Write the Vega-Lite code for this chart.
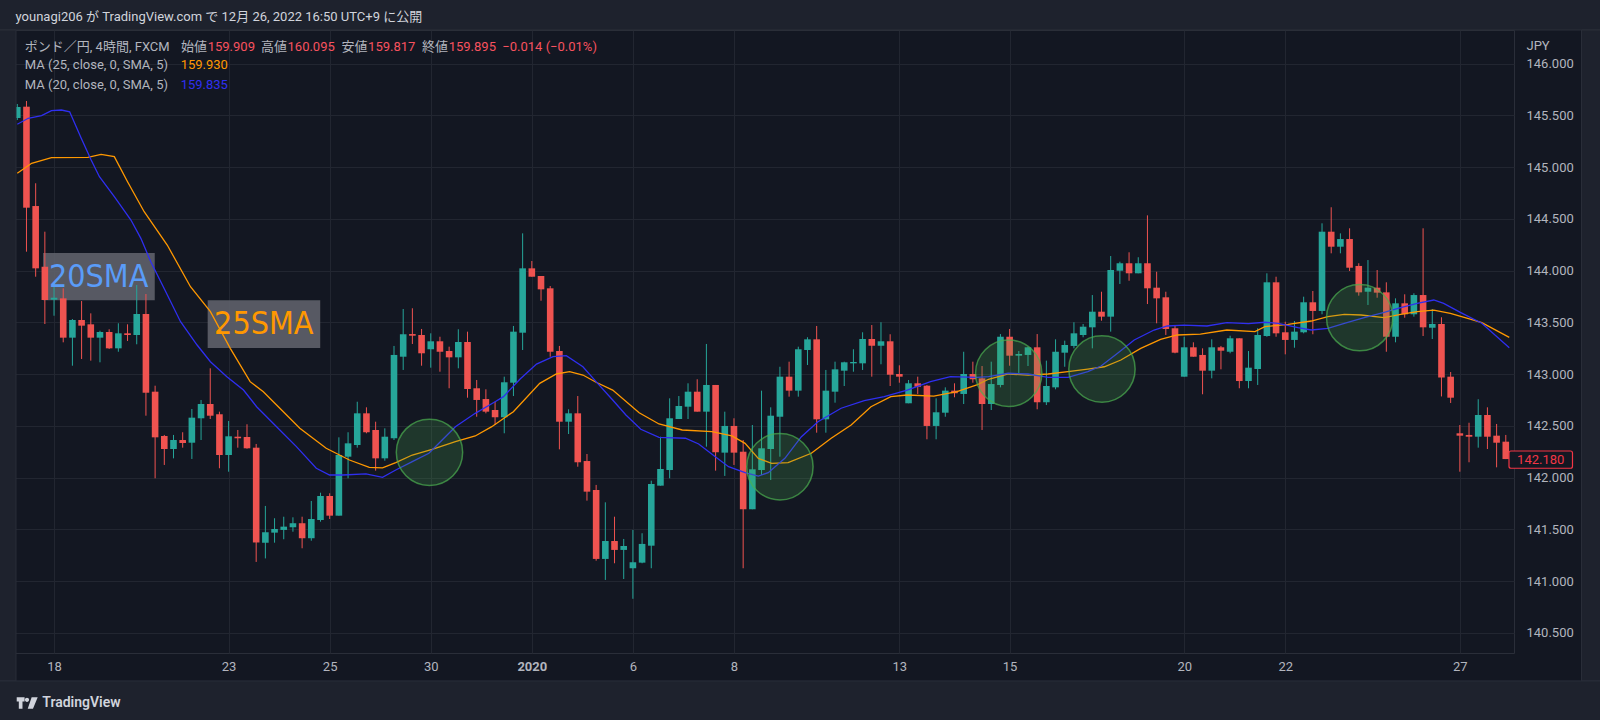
{
  "$schema": "https://vega.github.io/schema/vega-lite/v6.json",
  "description": "GBP/JPY 4h candles with 20 and 25 period SMA, TradingView snapshot",
  "width": 1503,
  "height": 623,
  "autosize": {"type": "none"},
  "padding": {"left": 11, "top": 30, "right": 86, "bottom": 67},
  "background": "#131722",
  "config": {
    "font": "Roboto, 'Noto Sans CJK JP', sans-serif",
    "view": {"stroke": "#2a2e39"}
  },
  "data": {
    "values": [
      {"i":0,"o":145.475,"h":145.611,"l":145.456,"c":145.582},
      {"i":1,"o":145.585,"h":145.640,"l":144.184,"c":144.609},
      {"i":2,"o":144.625,"h":144.845,"l":143.942,"c":144.023},
      {"i":3,"o":144.039,"h":144.377,"l":143.485,"c":143.717},
      {"i":4,"o":143.720,"h":143.878,"l":143.565,"c":143.739},
      {"i":5,"o":143.733,"h":143.830,"l":143.308,"c":143.353},
      {"i":6,"o":143.353,"h":143.533,"l":143.082,"c":143.524},
      {"i":7,"o":143.524,"h":143.707,"l":143.147,"c":143.469},
      {"i":8,"o":143.482,"h":143.588,"l":143.131,"c":143.353},
      {"i":9,"o":143.353,"h":143.420,"l":143.115,"c":143.408},
      {"i":10,"o":143.408,"h":143.434,"l":143.244,"c":143.250},
      {"i":11,"o":143.250,"h":143.492,"l":143.217,"c":143.395},
      {"i":12,"o":143.395,"h":143.482,"l":143.321,"c":143.379},
      {"i":13,"o":143.379,"h":143.862,"l":143.289,"c":143.582},
      {"i":14,"o":143.582,"h":143.775,"l":142.599,"c":142.821},
      {"i":15,"o":142.831,"h":142.889,"l":141.994,"c":142.390},
      {"i":16,"o":142.403,"h":142.413,"l":142.123,"c":142.277},
      {"i":17,"o":142.277,"h":142.413,"l":142.187,"c":142.364},
      {"i":18,"o":142.364,"h":142.439,"l":142.290,"c":142.335},
      {"i":19,"o":142.338,"h":142.664,"l":142.181,"c":142.580},
      {"i":20,"o":142.574,"h":142.751,"l":142.364,"c":142.712},
      {"i":21,"o":142.712,"h":143.057,"l":142.567,"c":142.599},
      {"i":22,"o":142.613,"h":142.638,"l":142.091,"c":142.219},
      {"i":23,"o":142.219,"h":142.548,"l":142.058,"c":142.400},
      {"i":24,"o":142.396,"h":142.461,"l":142.290,"c":142.381},
      {"i":25,"o":142.393,"h":142.516,"l":142.280,"c":142.284},
      {"i":26,"o":142.290,"h":142.326,"l":141.186,"c":141.374},
      {"i":27,"o":141.372,"h":141.727,"l":141.220,"c":141.473},
      {"i":28,"o":141.469,"h":141.608,"l":141.372,"c":141.504},
      {"i":29,"o":141.495,"h":141.623,"l":141.405,"c":141.527},
      {"i":30,"o":141.521,"h":141.617,"l":141.478,"c":141.560},
      {"i":31,"o":141.560,"h":141.623,"l":141.318,"c":141.415},
      {"i":32,"o":141.415,"h":141.775,"l":141.391,"c":141.601},
      {"i":33,"o":141.591,"h":141.855,"l":141.575,"c":141.823},
      {"i":34,"o":141.823,"h":141.849,"l":141.601,"c":141.633},
      {"i":35,"o":141.633,"h":142.390,"l":141.633,"c":142.219},
      {"i":36,"o":142.203,"h":142.439,"l":141.994,"c":142.332},
      {"i":37,"o":142.316,"h":142.734,"l":142.290,"c":142.622},
      {"i":38,"o":142.622,"h":142.680,"l":142.429,"c":142.439},
      {"i":39,"o":142.461,"h":142.541,"l":142.068,"c":142.187},
      {"i":40,"o":142.187,"h":142.477,"l":142.164,"c":142.396},
      {"i":41,"o":142.381,"h":143.273,"l":142.364,"c":143.186},
      {"i":42,"o":143.169,"h":143.630,"l":143.041,"c":143.386},
      {"i":43,"o":143.388,"h":143.637,"l":143.292,"c":143.372},
      {"i":44,"o":143.379,"h":143.437,"l":143.082,"c":143.202},
      {"i":45,"o":143.241,"h":143.395,"l":143.063,"c":143.318},
      {"i":46,"o":143.318,"h":143.362,"l":143.024,"c":143.217},
      {"i":47,"o":143.224,"h":143.266,"l":142.864,"c":143.163},
      {"i":48,"o":143.163,"h":143.434,"l":143.057,"c":143.311},
      {"i":49,"o":143.311,"h":143.411,"l":142.773,"c":142.857},
      {"i":50,"o":142.864,"h":142.944,"l":142.589,"c":142.751},
      {"i":51,"o":142.760,"h":142.854,"l":142.622,"c":142.638},
      {"i":52,"o":142.654,"h":142.734,"l":142.509,"c":142.584},
      {"i":53,"o":142.584,"h":142.976,"l":142.429,"c":142.922},
      {"i":54,"o":142.918,"h":143.466,"l":142.789,"c":143.411},
      {"i":55,"o":143.401,"h":144.361,"l":143.234,"c":144.023},
      {"i":56,"o":144.023,"h":144.094,"l":143.942,"c":143.942},
      {"i":57,"o":143.949,"h":143.949,"l":143.710,"c":143.820},
      {"i":58,"o":143.830,"h":143.852,"l":143.169,"c":143.217},
      {"i":59,"o":143.224,"h":143.273,"l":142.274,"c":142.541},
      {"i":60,"o":142.541,"h":142.661,"l":142.422,"c":142.622},
      {"i":61,"o":142.622,"h":142.789,"l":142.106,"c":142.149},
      {"i":62,"o":142.161,"h":142.229,"l":141.778,"c":141.865},
      {"i":63,"o":141.881,"h":141.930,"l":141.198,"c":141.215},
      {"i":64,"o":141.215,"h":141.762,"l":141.012,"c":141.388},
      {"i":65,"o":141.388,"h":141.623,"l":141.173,"c":141.302},
      {"i":66,"o":141.302,"h":141.408,"l":141.021,"c":141.340},
      {"i":67,"o":141.125,"h":141.495,"l":140.830,"c":141.183},
      {"i":68,"o":141.179,"h":141.463,"l":141.173,"c":141.360},
      {"i":69,"o":141.343,"h":141.971,"l":141.125,"c":141.939},
      {"i":70,"o":141.923,"h":142.396,"l":141.923,"c":142.084},
      {"i":71,"o":142.074,"h":142.767,"l":141.994,"c":142.574},
      {"i":72,"o":142.567,"h":142.789,"l":142.567,"c":142.693},
      {"i":73,"o":142.686,"h":142.912,"l":142.567,"c":142.831},
      {"i":74,"o":142.831,"h":142.951,"l":142.638,"c":142.638},
      {"i":75,"o":142.638,"h":143.292,"l":142.300,"c":142.896},
      {"i":76,"o":142.896,"h":142.896,"l":142.068,"c":142.246},
      {"i":77,"o":142.242,"h":142.638,"l":142.017,"c":142.500},
      {"i":78,"o":142.500,"h":142.574,"l":142.123,"c":142.242},
      {"i":79,"o":142.251,"h":142.364,"l":141.125,"c":141.695},
      {"i":80,"o":141.695,"h":142.509,"l":141.695,"c":142.081},
      {"i":81,"o":142.074,"h":142.841,"l":142.026,"c":142.284},
      {"i":82,"o":142.277,"h":142.680,"l":141.978,"c":142.599},
      {"i":83,"o":142.589,"h":143.072,"l":142.203,"c":142.976},
      {"i":84,"o":142.976,"h":143.121,"l":142.783,"c":142.841},
      {"i":85,"o":142.841,"h":143.266,"l":142.783,"c":143.241},
      {"i":86,"o":143.234,"h":143.357,"l":143.089,"c":143.337},
      {"i":87,"o":143.337,"h":143.466,"l":142.435,"c":142.564},
      {"i":88,"o":142.564,"h":143.041,"l":142.435,"c":142.841},
      {"i":89,"o":142.831,"h":143.121,"l":142.725,"c":143.047},
      {"i":90,"o":143.034,"h":143.121,"l":142.886,"c":143.115},
      {"i":91,"o":143.105,"h":143.241,"l":143.024,"c":143.118},
      {"i":92,"o":143.105,"h":143.405,"l":143.041,"c":143.340},
      {"i":93,"o":143.340,"h":143.475,"l":142.976,"c":143.275},
      {"i":94,"o":143.275,"h":143.502,"l":143.096,"c":143.318},
      {"i":95,"o":143.318,"h":143.386,"l":142.886,"c":142.995},
      {"i":96,"o":143.002,"h":143.086,"l":142.918,"c":142.976},
      {"i":97,"o":142.719,"h":142.944,"l":142.719,"c":142.912},
      {"i":98,"o":142.912,"h":142.976,"l":142.809,"c":142.879},
      {"i":99,"o":142.889,"h":142.896,"l":142.371,"c":142.500},
      {"i":100,"o":142.500,"h":142.767,"l":142.371,"c":142.632},
      {"i":101,"o":142.628,"h":142.873,"l":142.589,"c":142.841},
      {"i":102,"o":142.841,"h":142.912,"l":142.777,"c":142.816},
      {"i":103,"o":142.809,"h":143.217,"l":142.712,"c":143.002},
      {"i":104,"o":143.002,"h":143.121,"l":142.918,"c":142.951},
      {"i":105,"o":142.960,"h":143.079,"l":142.461,"c":142.712},
      {"i":106,"o":142.712,"h":143.121,"l":142.654,"c":142.905},
      {"i":107,"o":142.896,"h":143.388,"l":142.873,"c":143.362},
      {"i":108,"o":143.362,"h":143.437,"l":143.082,"c":143.179},
      {"i":109,"o":143.179,"h":143.224,"l":143.002,"c":143.195},
      {"i":110,"o":143.186,"h":143.266,"l":143.079,"c":143.260},
      {"i":111,"o":143.260,"h":143.388,"l":142.661,"c":142.729},
      {"i":112,"o":142.729,"h":143.131,"l":142.702,"c":142.886},
      {"i":113,"o":142.873,"h":143.337,"l":142.854,"c":143.217},
      {"i":114,"o":143.208,"h":143.324,"l":143.072,"c":143.282},
      {"i":115,"o":143.273,"h":143.502,"l":143.250,"c":143.395},
      {"i":116,"o":143.379,"h":143.485,"l":143.357,"c":143.459},
      {"i":117,"o":143.453,"h":143.765,"l":143.250,"c":143.604},
      {"i":118,"o":143.604,"h":143.797,"l":143.517,"c":143.556},
      {"i":119,"o":143.556,"h":144.142,"l":143.411,"c":144.007},
      {"i":120,"o":144.000,"h":144.087,"l":143.872,"c":144.072},
      {"i":121,"o":144.072,"h":144.178,"l":143.903,"c":143.975},
      {"i":122,"o":143.975,"h":144.130,"l":143.975,"c":144.072},
      {"i":123,"o":144.072,"h":144.535,"l":143.678,"c":143.830},
      {"i":124,"o":143.836,"h":143.990,"l":143.492,"c":143.733},
      {"i":125,"o":143.743,"h":143.797,"l":143.379,"c":143.437},
      {"i":126,"o":143.444,"h":143.466,"l":143.202,"c":143.208},
      {"i":127,"o":142.976,"h":143.362,"l":142.976,"c":143.260},
      {"i":128,"o":143.260,"h":143.308,"l":143.169,"c":143.169},
      {"i":129,"o":143.186,"h":143.250,"l":142.806,"c":143.034},
      {"i":130,"o":143.034,"h":143.337,"l":142.960,"c":143.260},
      {"i":131,"o":143.260,"h":143.273,"l":143.047,"c":143.227},
      {"i":132,"o":143.217,"h":143.372,"l":143.202,"c":143.347},
      {"i":133,"o":143.347,"h":143.347,"l":142.864,"c":142.934},
      {"i":134,"o":142.934,"h":143.224,"l":142.864,"c":143.063},
      {"i":135,"o":143.050,"h":143.444,"l":142.896,"c":143.379},
      {"i":136,"o":143.369,"h":143.975,"l":143.362,"c":143.888},
      {"i":137,"o":143.888,"h":143.942,"l":143.362,"c":143.395},
      {"i":138,"o":143.405,"h":143.507,"l":143.192,"c":143.331},
      {"i":139,"o":143.331,"h":143.514,"l":143.256,"c":143.411},
      {"i":140,"o":143.405,"h":143.749,"l":143.395,"c":143.695},
      {"i":141,"o":143.695,"h":143.804,"l":143.386,"c":143.611},
      {"i":142,"o":143.611,"h":144.458,"l":143.579,"c":144.377},
      {"i":143,"o":144.377,"h":144.613,"l":144.168,"c":144.232},
      {"i":144,"o":144.232,"h":144.361,"l":144.168,"c":144.306},
      {"i":145,"o":144.306,"h":144.410,"l":143.997,"c":144.029},
      {"i":146,"o":144.046,"h":144.072,"l":143.759,"c":143.791},
      {"i":147,"o":143.797,"h":144.103,"l":143.669,"c":143.836},
      {"i":148,"o":143.836,"h":144.007,"l":143.739,"c":143.788},
      {"i":149,"o":143.791,"h":143.888,"l":143.217,"c":143.362},
      {"i":150,"o":143.362,"h":143.733,"l":143.308,"c":143.685},
      {"i":151,"o":143.685,"h":143.772,"l":143.546,"c":143.579},
      {"i":152,"o":143.579,"h":143.782,"l":143.556,"c":143.765},
      {"i":153,"o":143.765,"h":144.410,"l":143.369,"c":143.453},
      {"i":154,"o":143.449,"h":143.630,"l":143.340,"c":143.485},
      {"i":155,"o":143.485,"h":143.550,"l":142.785,"c":142.968},
      {"i":156,"o":142.976,"h":143.021,"l":142.722,"c":142.773},
      {"i":157,"o":142.429,"h":142.509,"l":142.058,"c":142.406},
      {"i":158,"o":142.413,"h":142.531,"l":142.149,"c":142.396},
      {"i":159,"o":142.396,"h":142.758,"l":142.290,"c":142.606},
      {"i":160,"o":142.606,"h":142.680,"l":142.277,"c":142.396},
      {"i":161,"o":142.406,"h":142.519,"l":142.100,"c":142.338},
      {"i":162,"o":142.348,"h":142.413,"l":142.180,"c":142.180}
    ]
  },
  "datasets": {
    "ma20": [
      {"k":0,"v":145.415},{"k":1.19,"v":145.473},{"k":2.64,"v":145.498},{"k":3.72,"v":145.546},
      {"k":4.80,"v":145.553},{"k":5.70,"v":145.536},{"k":6.96,"v":145.279},{"k":8.04,"v":145.070},
      {"k":8.94,"v":144.908},{"k":10.56,"v":144.715},{"k":12.37,"v":144.490},{"k":13.45,"v":144.313},
      {"k":14.53,"v":144.087},{"k":15.97,"v":143.830},{"k":17.77,"v":143.507},{"k":19.57,"v":143.282},
      {"k":21.02,"v":143.121},{"k":22.81,"v":142.976},{"k":24.62,"v":142.847},{"k":26.05,"v":142.686},
      {"k":28.22,"v":142.493},{"k":30.38,"v":142.300},{"k":32.54,"v":142.091},{"k":33.99,"v":142.026},
      {"k":35.43,"v":142.026},{"k":37.95,"v":142.036},{"k":39.75,"v":142.004},{"k":41.19,"v":142.074},
      {"k":42.99,"v":142.155},{"k":44.80,"v":142.236},{"k":46.24,"v":142.364},{"k":47.68,"v":142.493},
      {"k":49.84,"v":142.622},{"k":52.0,"v":142.734},{"k":52.91,"v":142.783},{"k":54.70,"v":142.951},
      {"k":56.51,"v":143.098},{"k":58.31,"v":143.169},{"k":59.75,"v":143.179},{"k":61.56,"v":143.072},
      {"k":62.99,"v":142.928},{"k":64.80,"v":142.751},{"k":66.24,"v":142.606},{"k":67.86,"v":142.468},
      {"k":69.84,"v":142.390},{"k":72.72,"v":142.381},{"k":74.16,"v":142.326},{"k":75.97,"v":142.203},
      {"k":77.41,"v":142.106},{"k":79.21,"v":142.048},{"k":80.65,"v":142.016},{"k":81.73,"v":142.048},
      {"k":83.54,"v":142.187},{"k":85.34,"v":142.396},{"k":87.14,"v":142.541},{"k":89.66,"v":142.671},
      {"k":92.18,"v":142.744},{"k":94.35,"v":142.783},{"k":96.86,"v":142.847},{"k":99.39,"v":142.928},
      {"k":101.56,"v":142.976},{"k":104.43,"v":142.970},{"k":105.70,"v":142.976},{"k":107.86,"v":143.009},
      {"k":110.02,"v":143.002},{"k":112.18,"v":142.970},{"k":114.35,"v":142.970},{"k":116.51,"v":143.024},
      {"k":117.95,"v":143.079},{"k":119.75,"v":143.202},{"k":121.56,"v":143.331},{"k":123.72,"v":143.427},
      {"k":125.16,"v":143.466},{"k":126.96,"v":143.475},{"k":129.48,"v":143.466},{"k":131.64,"v":143.498},
      {"k":133.99,"v":143.488},{"k":135.78,"v":143.502},{"k":137.23,"v":143.492},{"k":139.39,"v":143.449},
      {"k":140.83,"v":143.427},{"k":142.64,"v":143.443},{"k":144.43,"v":143.492},{"k":146.59,"v":143.546},
      {"k":148.76,"v":143.598},{"k":150.56,"v":143.643},{"k":152.36,"v":143.685},{"k":154.16,"v":143.717},
      {"k":155.24,"v":143.685},{"k":157.05,"v":143.598},{"k":159.39,"v":143.492},{"k":162.38,"v":143.256}
    ],
    "ma25": [
      {"k":0,"v":144.941},{"k":1.56,"v":145.038},{"k":3.72,"v":145.092},{"k":7.68,"v":145.096},
      {"k":9.12,"v":145.125},{"k":10.56,"v":145.102},{"k":12.0,"v":144.860},{"k":13.81,"v":144.570},
      {"k":16.32,"v":144.248},{"k":18.85,"v":143.845},{"k":21.02,"v":143.604},{"k":23.18,"v":143.250},
      {"k":25.34,"v":142.928},{"k":26.78,"v":142.831},{"k":28.22,"v":142.702},{"k":30.75,"v":142.477},
      {"k":33.62,"v":142.284},{"k":36.15,"v":142.171},{"k":38.31,"v":142.100},{"k":39.75,"v":142.094},
      {"k":41.19,"v":142.145},{"k":42.99,"v":142.219},{"k":45.15,"v":142.274},{"k":47.68,"v":142.348},
      {"k":49.84,"v":142.403},{"k":51.64,"v":142.493},{"k":53.99,"v":142.638},{"k":56.86,"v":142.912},
      {"k":58.67,"v":143.002},{"k":60.11,"v":143.024},{"k":61.56,"v":142.992},{"k":62.99,"v":142.922},
      {"k":64.80,"v":142.847},{"k":67.68,"v":142.628},{"k":69.84,"v":142.519},{"k":72.37,"v":142.461},
      {"k":75.61,"v":142.445},{"k":77.77,"v":142.403},{"k":79.21,"v":142.332},{"k":80.65,"v":142.187},
      {"k":82.10,"v":142.139},{"k":83.89,"v":142.145},{"k":86.42,"v":142.236},{"k":88.58,"v":142.381},
      {"k":90.75,"v":142.509},{"k":92.91,"v":142.686},{"k":95.07,"v":142.783},{"k":96.86,"v":142.799},
      {"k":99.75,"v":142.789},{"k":102.27,"v":142.831},{"k":104.43,"v":142.896},{"k":105.70,"v":142.951},
      {"k":107.86,"v":143.002},{"k":110.02,"v":142.992},{"k":112.18,"v":143.002},{"k":114.35,"v":143.024},
      {"k":116.51,"v":143.050},{"k":118.31,"v":143.072},{"k":120.11,"v":143.137},{"k":122.27,"v":143.250},
      {"k":124.43,"v":143.337},{"k":126.24,"v":143.379},{"k":128.76,"v":143.388},{"k":131.64,"v":143.427},
      {"k":134.70,"v":143.411},{"k":135.78,"v":143.459},{"k":138.31,"v":143.482},{"k":140.83,"v":143.514},
      {"k":142.64,"v":143.556},{"k":144.43,"v":143.579},{"k":146.24,"v":143.572},{"k":148.76,"v":143.546},
      {"k":150.56,"v":143.579},{"k":152.36,"v":143.604},{"k":154.16,"v":143.620},{"k":155.97,"v":143.588},
      {"k":158.13,"v":143.533},{"k":159.39,"v":143.498},{"k":162.38,"v":143.356}
    ],
    "circles": [
      {"k":44.86,"p":142.245},
      {"k":83.0,"p":142.106},
      {"k":107.9,"p":143.009},
      {"k":118.05,"p":143.050},
      {"k":146.1,"p":143.546}
    ],
    "notes": [
      {"t":"20SMA","g":"20","k0":2.81,"k1":14.96,"p0":144.170,"p1":143.715,"km":8.85,"pm":143.935},
      {"t":"25SMA","g":"25","k0":20.72,"k1":32.97,"p0":143.715,"p1":143.253,"km":26.83,"pm":143.488}
    ]
  },
  "layer": [
    {
      "data": {"name": "notes"},
      "mark": {"type": "rect", "fill": "#5d6069", "opacity": 0.92},
      "encoding": {
        "x": {"field": "k0", "type": "quantitative"},
        "x2": {"field": "k1"},
        "y": {"field": "p0", "type": "quantitative"},
        "y2": {"field": "p1"}
      }
    },
    {
      "mark": {"type": "rule", "clip": true, "strokeWidth": 1},
      "encoding": {
        "x": {
          "field": "i",
          "type": "quantitative",
          "scale": {"domain": [-0.14, 162.35], "nice": false, "zero": false},
          "axis": {
            "title": null,
            "values": [4, 23, 34, 45, 56, 67, 78, 96, 108, 127, 138, 157],
            "labelExpr": "datum.value == 4 ? '18' : datum.value == 23 ? '23' : datum.value == 34 ? '25' : datum.value == 45 ? '30' : datum.value == 56 ? '2020' : datum.value == 67 ? '6' : datum.value == 78 ? '8' : datum.value == 96 ? '13' : datum.value == 108 ? '15' : datum.value == 127 ? '20' : datum.value == 138 ? '22' : '27'",
            "grid": true,
            "gridColor": "#222631",
            "domain": false,
            "ticks": false,
            "tickSize": 0,
            "labelColor": "#b2b5be",
            "labelFontSize": 13,
            "labelPadding": 7,
            "labelFlush": false,
            "labelOverlap": false,
            "labelFontWeight": {"condition": {"test": "datum.value == 56", "value": "bold"}, "value": "normal"}
          }
        },
        "y": {
          "field": "l",
          "type": "quantitative",
          "scale": {"domain": [140.306, 146.326], "nice": false, "zero": false},
          "axis": {
            "orient": "right",
            "values": [140.5, 141, 141.5, 142, 142.5, 143, 143.5, 144, 144.5, 145, 145.5, 146],
            "format": ".3f",
            "grid": true,
            "gridColor": "#222631",
            "domain": false,
            "ticks": false,
            "tickSize": 0,
            "labelColor": "#b2b5be",
            "labelFontSize": 13,
            "labelAlign": "left",
            "labelPadding": 12,
            "labelFlush": false,
            "labelOverlap": false,
            "title": "JPY",
            "titleAngle": 0,
            "titleX": 12,
            "titleY": 15,
            "titleAlign": "left",
            "titleBaseline": "middle",
            "titleColor": "#b2b5be",
            "titleFontSize": 13,
            "titleFontWeight": "normal"
          }
        },
        "y2": {"field": "h"},
        "color": {"condition": {"test": "datum.c >= datum.o", "value": "#26a69a"}, "value": "#ef5350"}
      }
    },
    {
      "mark": {"type": "bar", "clip": true, "size": 6.6},
      "encoding": {
        "x": {"field": "i", "type": "quantitative"},
        "y": {"field": "o", "type": "quantitative"},
        "y2": {"field": "c"},
        "color": {"condition": {"test": "datum.c >= datum.o", "value": "#26a69a"}, "value": "#ef5350"}
      }
    },
    {
      "data": {"name": "ma25"},
      "mark": {"type": "line", "clip": true, "color": "#ff9800", "strokeWidth": 1.3},
      "encoding": {
        "x": {"field": "k", "type": "quantitative"},
        "y": {"field": "v", "type": "quantitative"}
      }
    },
    {
      "data": {"name": "ma20"},
      "mark": {"type": "line", "clip": true, "color": "#2f2ff0", "strokeWidth": 1.3},
      "encoding": {
        "x": {"field": "k", "type": "quantitative"},
        "y": {"field": "v", "type": "quantitative"}
      }
    },
    {
      "data": {"name": "circles"},
      "mark": {"type": "point", "shape": "circle", "filled": true, "size": 4400, "opacity": 1, "fill": "#4caf50", "fillOpacity": 0.22, "stroke": "#4caf50", "strokeOpacity": 0.7, "strokeWidth": 1.5},
      "encoding": {
        "x": {"field": "k", "type": "quantitative"},
        "y": {"field": "p", "type": "quantitative"}
      }
    },
    {
      "data": {"name": "notes"},
      "mark": {"type": "text", "fontSize": 32, "font": "'Liberation Sans Narrow', 'DejaVu Sans Condensed', Roboto, sans-serif", "align": "center", "baseline": "middle"},
      "encoding": {
        "x": {"field": "km", "type": "quantitative"},
        "y": {"field": "pm", "type": "quantitative"},
        "text": {"field": "t"},
        "color": {"condition": {"test": "datum.g == '20'", "value": "#5a9cf8"}, "value": "#ff9800"}
      }
    },
    {
      "data": {"values": [{}]},
      "mark": {"type": "rect", "clip": false, "fill": "#1e222d", "stroke": "#2a2e39", "strokeWidth": 1},
      "encoding": {"x": {"datum": -2}, "x2": {"datum": 173}, "y": {"datum": 146.7}, "y2": {"datum": 146.326}}
    },
    {
      "data": {"values": [{}]},
      "mark": {"type": "rect", "clip": false, "fill": "#1e222d", "stroke": "#2a2e39", "strokeWidth": 1},
      "encoding": {"x": {"datum": -2}, "x2": {"datum": -0.14}, "y": {"datum": 146.326}, "y2": {"datum": 140.036}}
    },
    {
      "data": {"values": [{}]},
      "mark": {"type": "rect", "clip": false, "fill": "#1e222d", "stroke": "#2a2e39", "strokeWidth": 1},
      "encoding": {"x": {"datum": 170.24}, "x2": {"datum": 173}, "y": {"datum": 146.326}, "y2": {"datum": 140.036}}
    },
    {
      "data": {"values": [{}]},
      "mark": {"type": "rect", "clip": false, "fill": "#1e222d", "stroke": "#2a2e39", "strokeWidth": 1},
      "encoding": {"x": {"datum": -2}, "x2": {"datum": 173}, "y": {"datum": 140.036}, "y2": {"datum": 139.5}}
    },
    {
      "data": {"values": [{}]},
      "mark": {"type": "text", "clip": false, "align": "left", "baseline": "middle", "fontSize": 13, "color": "#d1d4dc", "text": "younagi206 が TradingView.com で 12月 26, 2022 16:50 UTC+9 に公開"},
      "encoding": {"x": {"datum": -0.19}, "y": {"datum": 146.456}}
    },
    {
      "data": {"values": [{}]},
      "mark": {"type": "text", "align": "left", "baseline": "middle", "fontSize": 13, "color": "#b2b5be", "text": "ポンド／円, 4時間, FXCM"},
      "encoding": {"x": {"datum": 0.82}, "y": {"datum": 146.161}}
    },
    {
      "data": {"values": [{}]},
      "mark": {"type": "text", "align": "left", "baseline": "middle", "fontSize": 13, "color": "#b2b5be", "text": "始値"},
      "encoding": {"x": {"datum": 17.83}, "y": {"datum": 146.161}}
    },
    {
      "data": {"values": [{}]},
      "mark": {"type": "text", "align": "left", "baseline": "middle", "fontSize": 13, "color": "#f7525f", "text": "159.909"},
      "encoding": {"x": {"datum": 20.72}, "y": {"datum": 146.161}}
    },
    {
      "data": {"values": [{}]},
      "mark": {"type": "text", "align": "left", "baseline": "middle", "fontSize": 13, "color": "#b2b5be", "text": "高値"},
      "encoding": {"x": {"datum": 26.52}, "y": {"datum": 146.161}}
    },
    {
      "data": {"values": [{}]},
      "mark": {"type": "text", "align": "left", "baseline": "middle", "fontSize": 13, "color": "#f7525f", "text": "160.095"},
      "encoding": {"x": {"datum": 29.41}, "y": {"datum": 146.161}}
    },
    {
      "data": {"values": [{}]},
      "mark": {"type": "text", "align": "left", "baseline": "middle", "fontSize": 13, "color": "#b2b5be", "text": "安値"},
      "encoding": {"x": {"datum": 35.29}, "y": {"datum": 146.161}}
    },
    {
      "data": {"values": [{}]},
      "mark": {"type": "text", "align": "left", "baseline": "middle", "fontSize": 13, "color": "#f7525f", "text": "159.817"},
      "encoding": {"x": {"datum": 38.18}, "y": {"datum": 146.161}}
    },
    {
      "data": {"values": [{}]},
      "mark": {"type": "text", "align": "left", "baseline": "middle", "fontSize": 13, "color": "#b2b5be", "text": "終値"},
      "encoding": {"x": {"datum": 44.05}, "y": {"datum": 146.161}}
    },
    {
      "data": {"values": [{}]},
      "mark": {"type": "text", "align": "left", "baseline": "middle", "fontSize": 13, "color": "#f7525f", "text": "159.895"},
      "encoding": {"x": {"datum": 46.95}, "y": {"datum": 146.161}}
    },
    {
      "data": {"values": [{}]},
      "mark": {"type": "text", "align": "left", "baseline": "middle", "fontSize": 13, "color": "#f7525f", "text": "−0.014 (−0.01%)"},
      "encoding": {"x": {"datum": 52.79}, "y": {"datum": 146.161}}
    },
    {
      "data": {"values": [{}]},
      "mark": {"type": "text", "align": "left", "baseline": "middle", "fontSize": 13, "color": "#b2b5be", "text": "MA (25, close, 0, SMA, 5)"},
      "encoding": {"x": {"datum": 0.82}, "y": {"datum": 145.983}}
    },
    {
      "data": {"values": [{}]},
      "mark": {"type": "text", "align": "left", "baseline": "middle", "fontSize": 13, "color": "#ff9800", "text": "159.930"},
      "encoding": {"x": {"datum": 17.78}, "y": {"datum": 145.983}}
    },
    {
      "data": {"values": [{}]},
      "mark": {"type": "text", "align": "left", "baseline": "middle", "fontSize": 13, "color": "#b2b5be", "text": "MA (20, close, 0, SMA, 5)"},
      "encoding": {"x": {"datum": 0.82}, "y": {"datum": 145.799}}
    },
    {
      "data": {"values": [{}]},
      "mark": {"type": "text", "align": "left", "baseline": "middle", "fontSize": 13, "color": "#2f2ff0", "text": "159.835"},
      "encoding": {"x": {"datum": 17.78}, "y": {"datum": 145.799}}
    },
    {
      "data": {"values": [{}]},
      "mark": {"type": "point", "clip": false, "filled": true, "opacity": 1, "size": 441, "color": "#d1d4dc", "shape": "M-1,-0.55H-0.25V-0.15H-0.45V0.55H-0.8V-0.15H-1Z M-0.22,-0.3A0.2,0.2 0 1,0 0.18,-0.3A0.2,0.2 0 1,0 -0.22,-0.3Z M0.42,-0.55H1L0.55,0.55H0.05Z"},
      "encoding": {"x": {"datum": 1.08}, "y": {"datum": 139.823}}
    },
    {
      "data": {"values": [{}]},
      "mark": {"type": "text", "clip": false, "align": "left", "baseline": "middle", "fontSize": 14, "fontWeight": 600, "color": "#d1d4dc", "text": "TradingView"},
      "encoding": {"x": {"datum": 2.72}, "y": {"datum": 139.823}}
    },
    {
      "data": {"values": [{}]},
      "mark": {"type": "rect", "clip": false, "fill": "#131722", "stroke": "#f23645", "strokeWidth": 1.2, "cornerRadius": 2},
      "encoding": {"x": {"datum": 162.35}, "x2": {"datum": 169.26}, "y": {"datum": 142.258}, "y2": {"datum": 142.091}}
    },
    {
      "data": {"values": [{}]},
      "mark": {"type": "text", "clip": false, "align": "center", "baseline": "middle", "fontSize": 13, "color": "#f23645", "text": "142.180"},
      "encoding": {"x": {"datum": 165.8}, "y": {"datum": 142.174}}
    }
  ]
}
